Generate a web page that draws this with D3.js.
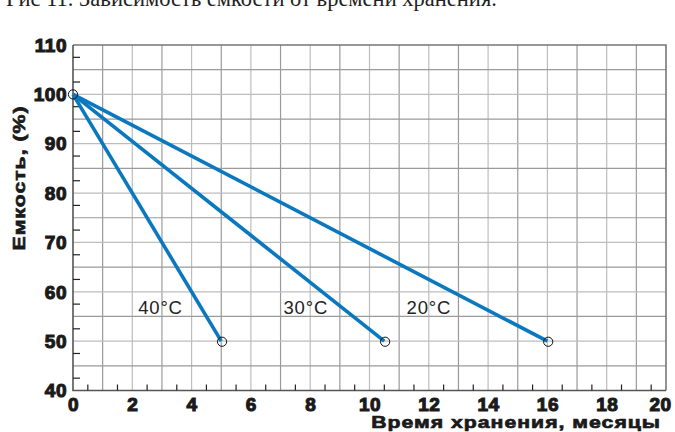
<!DOCTYPE html>
<html>
<head>
<meta charset="utf-8">
<script src="https://cdn.jsdelivr.net/npm/d3@7"></script>
<style>
  body { margin: 0; background: #fff; }
  svg { display: block; }
</style>
</head>
<body>
<svg id="chart" width="675" height="432"></svg>
<script>
// Capacity vs storage time
const xTicks = [0, 2, 4, 6, 8, 10, 12, 14, 16, 18, 20];
const yTicks = [40, 50, 60, 70, 80, 90, 100, 110];
const seriesNames = ['40°C', '30°C', '20°C'];
const seriesMonths = [[0, 5], [0, 10.5], [0, 16]];
const seriesCapacity = [[100, 50], [100, 50], [100, 50]];
const labelMonths = [2.2, 7.1, 11.25];
const labelCapacity = [55.6, 55.6, 55.6];

const svg = d3.select('#chart');
const M = { left: 73, right: 666, top: 45, bottom: 390.5 };

const x = d3.scaleLinear().domain([0, 20]).range([M.left, M.right]);
const y = d3.scaleLinear().domain([40, 110]).range([M.bottom, M.top]);

// title, clipped at the top edge
svg.append('text')
  .attr('x', 6).attr('y', 6)
  .attr('font-family', 'Liberation Serif')
  .attr('font-size', 22.5)
  .attr('fill', '#222')
  .text('Рис 11. Зависимость емкости от времени хранения.');

// grid
const grid = svg.append('g');
grid.selectAll('line.v')
  .data(d3.range(1, 20))
  .enter().append('line')
  .attr('x1', d => x(d)).attr('x2', d => x(d))
  .attr('y1', M.top).attr('y2', M.bottom)
  .attr('stroke', (d, i) => i % 2 ? '#bdbdbd' : '#9a9a9a')
  .attr('stroke-width', 1.2);
grid.selectAll('line.h')
  .data(d3.range(45, 110, 5))
  .enter().append('line')
  .attr('x1', M.left).attr('x2', M.right)
  .attr('y1', d => y(d)).attr('y2', d => y(d))
  .attr('stroke', (d, i) => i % 2 ? '#bdbdbd' : '#9a9a9a')
  .attr('stroke-width', 1.2);

// frame
svg.append('path')
  .attr('d', `M${M.left},${M.top}H${M.right}V${M.bottom}`)
  .attr('fill', 'none').attr('stroke', '#777').attr('stroke-width', 1.6);
svg.append('path')
  .attr('d', `M${M.left},${M.top}V${M.bottom}H${M.right}`)
  .attr('fill', 'none').attr('stroke', '#555').attr('stroke-width', 1.6);

// minor ticks
svg.append('g').selectAll('line')
  .data(d3.range(0.5, 20, 1))
  .enter().append('line')
  .attr('x1', d => x(d)).attr('x2', d => x(d))
  .attr('y1', M.bottom).attr('y2', M.bottom - 6)
  .attr('stroke', '#222').attr('stroke-width', 1.2);
svg.append('g').selectAll('line')
  .data(d3.range(42.5, 110, 5))
  .enter().append('line')
  .attr('x1', M.left).attr('x2', M.left + 7)
  .attr('y1', d => y(d)).attr('y2', d => y(d))
  .attr('stroke', '#222').attr('stroke-width', 1.2);

// axes labels
const xAxis = d3.axisBottom(x).tickValues(xTicks).tickSize(0).tickPadding(0);
const gx = svg.append('g').attr('transform', `translate(0,${M.bottom})`).call(xAxis);
gx.select('.domain').remove();
gx.selectAll('text')
  .attr('y', 20).attr('dy', null)
  .attr('x', d => d === 20 ? -6 : 0)
  .attr('font-family', 'Liberation Sans').attr('font-weight', 'bold')
  .attr('font-size', 19).attr('fill', '#1a1a1a')
  .attr('stroke', '#1a1a1a').attr('stroke-width', 1.1)
  .style('letter-spacing', '0.5px');

const yAxis = d3.axisLeft(y).tickValues(yTicks).tickSize(0).tickPadding(0);
const gy = svg.append('g').attr('transform', `translate(${M.left},0)`).call(yAxis);
gy.select('.domain').remove();
gy.selectAll('text')
  .attr('x', -6).attr('dy', '0.33em')
  .attr('font-family', 'Liberation Sans').attr('font-weight', 'bold')
  .attr('font-size', 19).attr('fill', '#1a1a1a')
  .attr('stroke', '#1a1a1a').attr('stroke-width', 1.1)
  .style('letter-spacing', '0.5px');

svg.append('text')
  .attr('transform', 'translate(661,428) scale(1.25,1)')
  .attr('text-anchor', 'end')
  .attr('font-family', 'Liberation Sans').attr('font-weight', 'bold')
  .attr('font-size', 17).attr('fill', '#1a1a1a')
  .attr('stroke', '#1a1a1a').attr('stroke-width', 0.7)
  .style('letter-spacing', '0.8px')
  .text('Время хранения, месяцы');

svg.append('text')
  .attr('transform', 'translate(25,178) rotate(-90) scale(1.25,1)')
  .attr('text-anchor', 'middle')
  .attr('font-family', 'Liberation Sans').attr('font-weight', 'bold')
  .attr('font-size', 17).attr('fill', '#1a1a1a')
  .attr('stroke', '#1a1a1a').attr('stroke-width', 0.7)
  .style('letter-spacing', '0.8px')
  .text('Емкость, (%)');

// series
const line = d3.line().x(d => x(d[0])).y(d => y(d[1]));
seriesNames.forEach((name, i) => {
  const pts = seriesMonths[i].map((m, j) => [m, seriesCapacity[i][j]]);
  svg.append('path')
    .attr('d', line(pts))
    .attr('fill', 'none')
    .attr('stroke', '#0a78bf')
    .attr('stroke-width', 3.6);
  svg.append('circle')
    .attr('cx', x(pts[1][0]) + 0.8).attr('cy', y(pts[1][1]) + 0.6).attr('r', 4.6)
    .attr('fill', 'none').attr('stroke', '#111').attr('stroke-width', 1);
  svg.append('text')
    .attr('x', x(labelMonths[i])).attr('y', y(labelCapacity[i]))
    .attr('font-family', 'Liberation Sans').attr('font-size', 18.5)
    .attr('fill', '#222')
    .style('letter-spacing', '0.8px')
    .text(name);
});
svg.append('circle')
  .attr('cx', x(0)).attr('cy', y(100)).attr('r', 4.6)
  .attr('fill', 'none').attr('stroke', '#111').attr('stroke-width', 1);
</script>
</body>
</html>
